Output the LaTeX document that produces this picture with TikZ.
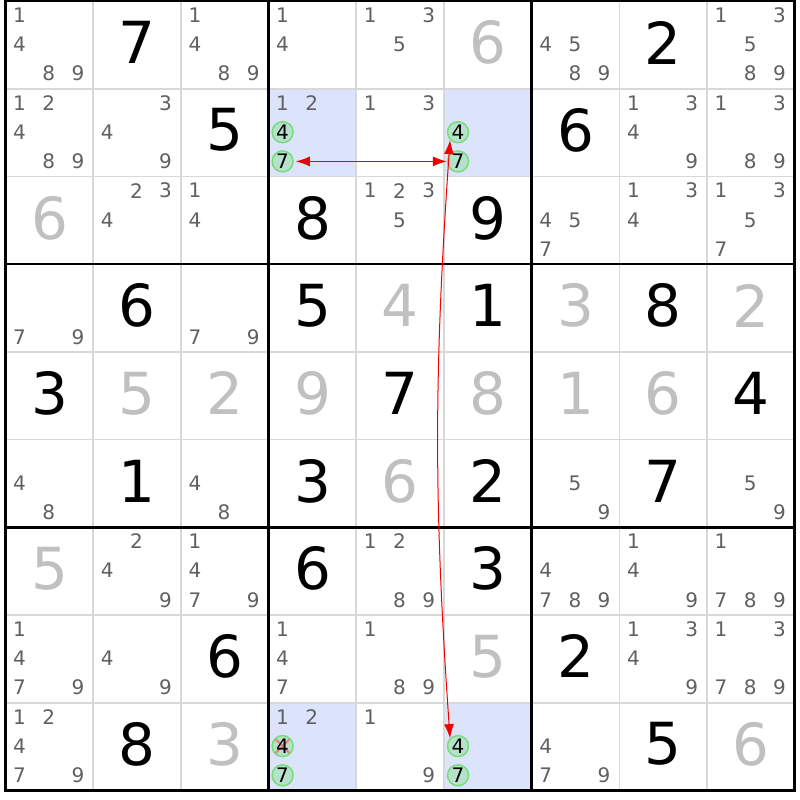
\documentclass[tikz,border=0pt]{standalone}
\usepackage{fontspec}
\setmainfont{DejaVu Sans}
\usetikzlibrary{arrows.meta}
\definecolor{cellblue}{RGB}{220,228,252}
\definecolor{pencil}{RGB}{96,96,100}
\definecolor{solved}{RGB}{192,192,192}
\definecolor{gridgray}{RGB}{216,216,216}
\definecolor{ringgreen}{RGB}{120,220,120}
\definecolor{ringfill}{RGB}{182,226,204}
\definecolor{linkred}{RGB}{240,0,0}
\definecolor{crossred}{RGB}{240,120,130}

\begin{document}
\begin{tikzpicture}[x=1pt, y=-1pt,
  given/.style={font=\fontsize{58}{58}\selectfont, inner sep=0},
  found/.style={given, text=solved},
  cand/.style={font=\fontsize{20}{20}\selectfont, inner sep=0, text=pencil},
  ring/.style={circle, draw=ringgreen, fill=ringfill, line width=1.5pt, minimum size=21pt, inner sep=0, font=\fontsize{20}{20}\selectfont},
  struck/.style={ring, path picture={\draw[crossred, line width=2pt] (path picture bounding box.north west) -- (path picture bounding box.south east) (path picture bounding box.north east) -- (path picture bounding box.south west);}},
  link/.style={linkred, line width=1pt, >={Latex[length=14pt,width=10pt]}, <->}]
\useasboundingbox (0,0) rectangle (800,800);
\fill[white] (0,0) rectangle (800,800);
\foreach \r/\c in {2/4,2/6,9/4,9/6}
  \fill[cellblue] ({5.5+(\c-1)*87.7},{1+(\r-1)*87.7}) rectangle +(87.7,87.7);
\foreach \i in {1,2,4,5,7,8} {
  \draw[gridgray, line width=1.8pt] ({5.5+\i*87.7},1) -- ({5.5+\i*87.7},790.3);
  \draw[gridgray, line width=1.8pt] (5.5,{1+\i*87.7}) -- (794.8,{1+\i*87.7});
}
\foreach \i in {3,6} {
  \draw[black, line width=2.6pt] ({5.5+\i*87.7},1) -- ({5.5+\i*87.7},790.3);
  \draw[black, line width=2.6pt] (5.5,{1+\i*87.7}) -- (794.8,{1+\i*87.7});
}
\draw[black, line width=3pt] (5.5,1) rectangle (794.8,790.3);

\foreach \r/\c/\d in {1/2/7,1/8/2,2/3/5,2/7/6,3/4/8,3/6/9,4/2/6,4/4/5,4/6/1,4/8/8,
    5/1/3,5/5/7,5/9/4,6/2/1,6/4/3,6/6/2,6/8/7,7/4/6,7/6/3,8/3/6,8/7/2,9/2/8,9/8/5}
  \node[given] (g\r\c) at ({5.5+(\c-1)*87.7+44},{1+(\r-1)*87.7+41.5}) {\d};
\foreach \r/\c/\d in {1/6/6,3/1/6,4/5/4,4/7/3,4/9/2,5/2/5,5/3/2,5/4/9,5/6/8,5/7/1,5/8/6,
    6/5/6,7/1/5,8/6/5,9/3/3,9/9/6}
  \node[found] (g\r\c) at ({5.5+(\c-1)*87.7+44},{1+(\r-1)*87.7+41.5}) {\d};

\foreach \r/\c/\ds in {1/1/{1,4,8,9},1/3/{1,4,8,9},1/4/{1,4},1/5/{1,3,5},1/7/{4,5,8,9},1/9/{1,3,5,8,9},
    2/1/{1,2,4,8,9},2/2/{3,4,9},2/4/{1,2},2/5/{1,3},2/8/{1,3,4,9},2/9/{1,3,8,9},
    3/2/{2,3,4},3/3/{1,4},3/5/{1,2,3,5},3/7/{4,5,7},3/8/{1,3,4},3/9/{1,3,5,7},
    4/1/{7,9},4/3/{7,9},6/1/{4,8},6/3/{4,8},6/7/{5,9},6/9/{5,9},
    7/2/{2,4,9},7/3/{1,4,7,9},7/5/{1,2,8,9},7/7/{4,7,8,9},7/8/{1,4,9},7/9/{1,7,8,9},
    8/1/{1,4,7,9},8/2/{4,9},8/4/{1,4,7},8/5/{1,8,9},8/8/{1,3,4,9},8/9/{1,3,7,8,9},
    9/1/{1,2,4,7,9},9/4/{1,2},9/5/{1,9},9/7/{4,7,9}}
  \foreach \d in \ds
    \node[cand] (pm\r\c\d) at ({5.5+(\c-1)*87.7+14+29.2*mod(\d-1,3)},{1+(\r-1)*87.7+14.3+29.2*div(\d-1,3)}) {\d};
\foreach \r/\c/\d/\s in {2/4/4/ring,2/4/7/ring,2/6/4/ring,2/6/7/ring,9/4/4/struck,9/4/7/ring,9/6/4/ring,9/6/7/ring}
  \node[\s] (pm\r\c\d) at ({5.5+(\c-1)*87.7+14+29.2*mod(\d-1,3)},{1+(\r-1)*87.7+14.3+29.2*div(\d-1,3)}) {\d};

\draw[link, shorten <=2pt] (pm247) -- (pm267);
\draw[link] (pm264.south west) to[bend right=4] (pm964.north west);
\end{tikzpicture}
\end{document}
